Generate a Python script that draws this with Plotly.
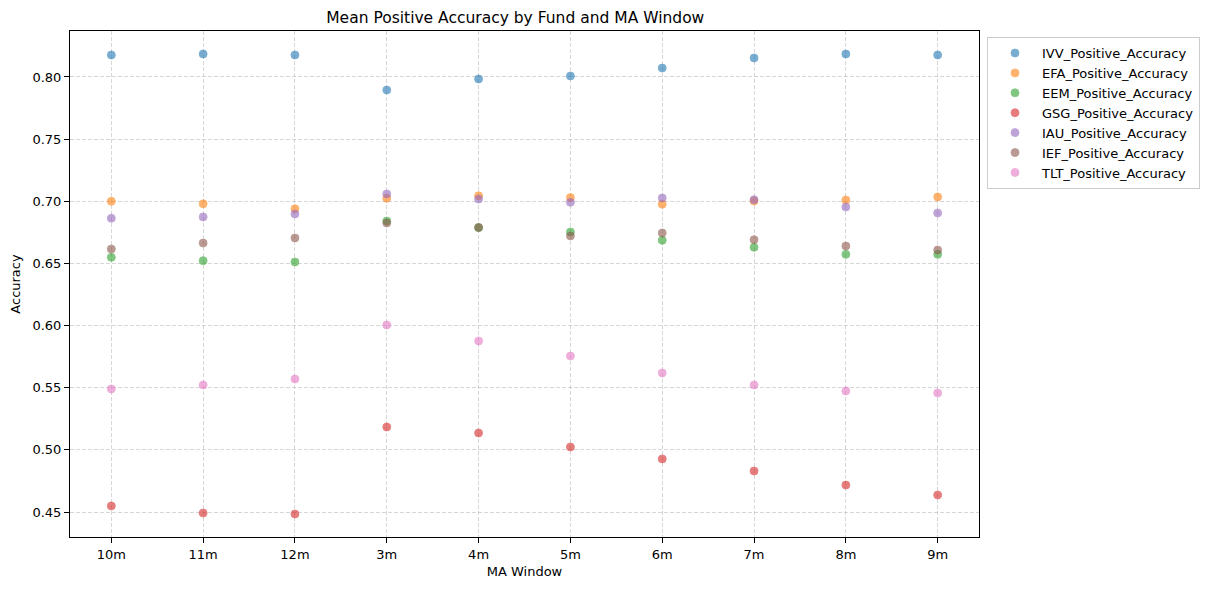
import plotly.graph_objects as go

windows = ["10m", "11m", "12m", "3m", "4m", "5m", "6m", "7m", "8m", "9m"]

ivv = [0.8177, 0.8185, 0.8177, 0.7895, 0.7984, 0.8008, 0.8072, 0.8153, 0.8185, 0.8177]
efa = [0.7000, 0.6980, 0.6940, 0.7024, 0.7045, 0.7030, 0.6976, 0.7002, 0.7010, 0.7035]
eem = [0.6549, 0.6522, 0.6512, 0.6841, 0.6788, 0.6753, 0.6686, 0.6630, 0.6573, 0.6573]
gsg = [0.4549, 0.4492, 0.4484, 0.5184, 0.5136, 0.5023, 0.4927, 0.4830, 0.4717, 0.4637]
iau = [0.6863, 0.6874, 0.6898, 0.7059, 0.7018, 0.6992, 0.7027, 0.7013, 0.6954, 0.6906]
ief = [0.6616, 0.6664, 0.6705, 0.6825, 0.6790, 0.6721, 0.6745, 0.6691, 0.6640, 0.6608]
tlt = [0.5490, 0.5522, 0.5570, 0.6005, 0.5876, 0.5755, 0.5619, 0.5522, 0.5474, 0.5458]

series = [
    ("IVV_Positive_Accuracy", ivv, "#1f77b4"),
    ("EFA_Positive_Accuracy", efa, "#ff7f0e"),
    ("EEM_Positive_Accuracy", eem, "#2ca02c"),
    ("GSG_Positive_Accuracy", gsg, "#d62728"),
    ("IAU_Positive_Accuracy", iau, "#9467bd"),
    ("IEF_Positive_Accuracy", ief, "#8c564b"),
    ("TLT_Positive_Accuracy", tlt, "#e377c2"),
]

fig = go.Figure()
for name, vals, col in series:
    fig.add_trace(go.Scatter(
        x=list(range(len(windows))), y=vals, mode="markers", name=name,
        marker=dict(size=8, color=col, opacity=0.6, line=dict(width=0.8, color=col)),
    ))

font = "DejaVu Sans, sans-serif"
grid = "rgba(176,176,176,0.5)"
fig.update_layout(
    width=1211, height=590,
    margin=dict(l=70, r=231, t=31, b=53),
    paper_bgcolor="white", plot_bgcolor="white",
    font=dict(family=font, size=13, color="black"),
    title=dict(text="Mean Positive Accuracy by Fund and MA Window", x=0.4255, xanchor="center",
               y=0.971, yanchor="middle", font=dict(size=15.5, family=font)),
    legend=dict(x=1.0077, y=0.988, xanchor="left", yanchor="top",
                bordercolor="#cccccc", borderwidth=1, font=dict(size=13, family=font),
                itemwidth=44, tracegroupgap=0),
    showlegend=True,
)
fig.update_xaxes(
    title=dict(text="MA Window", standoff=6, font=dict(size=13)),
    tickmode="array", tickvals=list(range(len(windows))), ticktext=windows,
    range=[-0.45, 9.45], showline=True, mirror=True, linecolor="black", linewidth=1,
    ticks="outside", ticklen=5, tickcolor="black",
    showgrid=True, gridcolor=grid, griddash="4px,2px", gridwidth=1,
    zeroline=False,
)
fig.update_yaxes(
    title=dict(text="Accuracy", standoff=8, font=dict(size=13)),
    range=[0.4299, 0.837], tickvals=[0.45, 0.50, 0.55, 0.60, 0.65, 0.70, 0.75, 0.80],
    tickformat=".2f",
    showline=True, mirror=True, linecolor="black", linewidth=1,
    ticks="outside", ticklen=5, tickcolor="black",
    showgrid=True, gridcolor=grid, griddash="4px,2px", gridwidth=1,
    zeroline=False,
)

fig.write_html("out.html")
